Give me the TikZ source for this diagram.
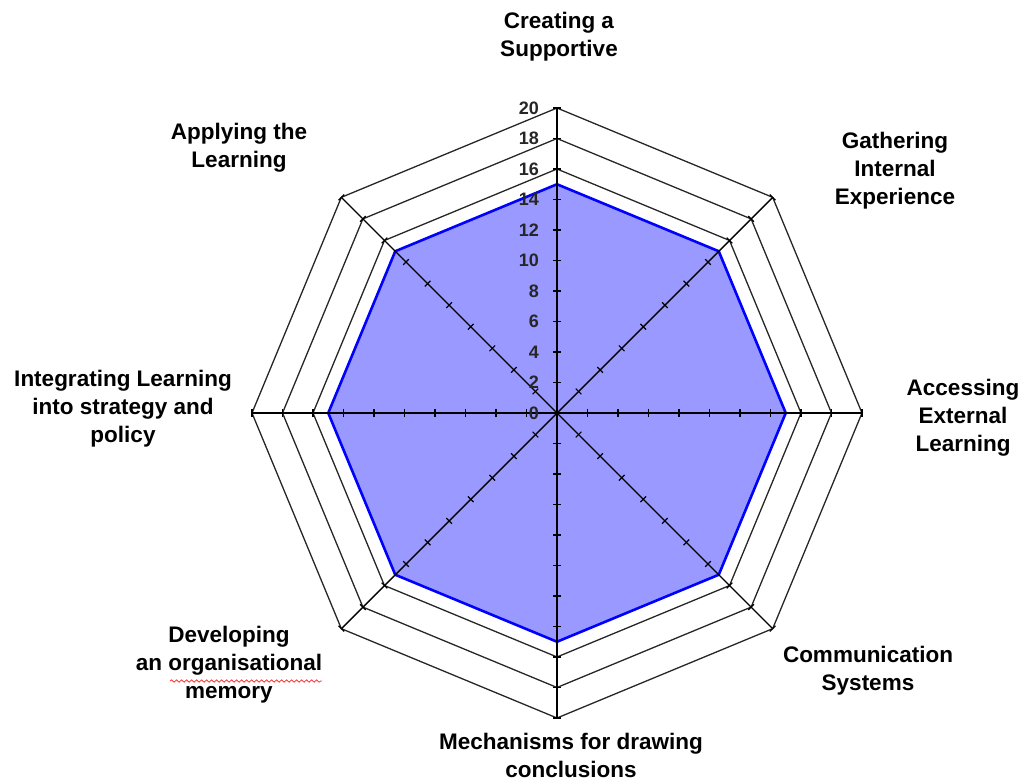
\documentclass[tikz,border=0pt]{standalone}
\usepackage{fontspec}
\setmainfont{Liberation Sans}
\usetikzlibrary{decorations.pathmorphing}
\definecolor{datafill}{RGB}{153,153,255}
\definecolor{dataline}{RGB}{0,0,255}
\begin{document}
\begin{tikzpicture}[x=1pt,y=1pt,
  lab/.style={font=\fontsize{22.5}{28}\selectfont\bfseries, align=center, text=black, inner sep=0pt},
  ticklab/.style={font=\fontsize{18}{18}\selectfont\bfseries, anchor=east, inner sep=0pt, text=black!85},
  ring/.style={draw=black!85, line width=1.3pt, line join=miter},
  axis/.style={draw=black, line width=1.4pt},
  tickmark/.style={draw=black, line width=1.2pt},
  datafillst/.style={fill=datafill},
  dataedge/.style={draw=dataline, line width=2.6pt, line join=miter},
  spell/.style={draw=red!80, line width=0.8pt, decorate, decoration={snake, amplitude=1.2pt, segment length=5pt}}]
\useasboundingbox (0,0) rectangle (1021,-782);
\pgfmathsetmacro{\u}{15.25}
\begin{scope}[shift={(557,-413)}]
  \coordinate (O) at (0,0);
  % data polygon
  \path[datafillst] (0:{15*\u}) \foreach \a in {45,90,...,315} { -- (\a:{15*\u}) } -- cycle;
  % rings
  \foreach \r in {16,18,20} {
    \draw[ring] (0:{\r*\u}) \foreach \a in {45,90,...,315} { -- (\a:{\r*\u}) } -- cycle;
  }
  \draw[dataedge] (0:{15*\u}) \foreach \a in {45,90,...,315} { -- (\a:{15*\u}) } -- cycle;
  % axes
  \foreach \a in {0,45,...,315} {
    \coordinate (end\a) at (\a:{20*\u});
    \draw[axis] (O) -- (end\a);
    \foreach \v in {2,4,...,20} {
      \draw[tickmark] (\a:{\v*\u}) ++({\a+90}:4) -- ++({\a-90}:8);
    }
  }
  % tick labels
  \foreach \v in {0,2,...,20} {
    \node[ticklab] (t\v) at (-18,{\v*\u}) {\v};
  }
\end{scope}
% category labels
\node[lab] (l1) at (559,-37) {Creating a\\Supportive};
\node[lab] (l2) at (895,-171) {Gathering\\Internal\\Experience};
\node[lab] (l3) at (963,-418) {Accessing\\External\\Learning};
\node[lab] (l4) at (868,-671) {Communication\\Systems};
\node[lab] (l5) at (571,-755) {Mechanisms for drawing\\conclusions};
\node[lab] (l6) at (229,-665) {Developing\\an organisational\\memory};
\node[lab] (l7) at (123,-409) {Integrating Learning\\into strategy and\\policy};
\node[lab] (l8) at (239,-148) {Applying the\\Learning};
\coordinate (s1) at (170,-681);
\coordinate (s2) at (322,-681);
\draw[spell] (s1) -- (s2);
\end{tikzpicture}
\end{document}
